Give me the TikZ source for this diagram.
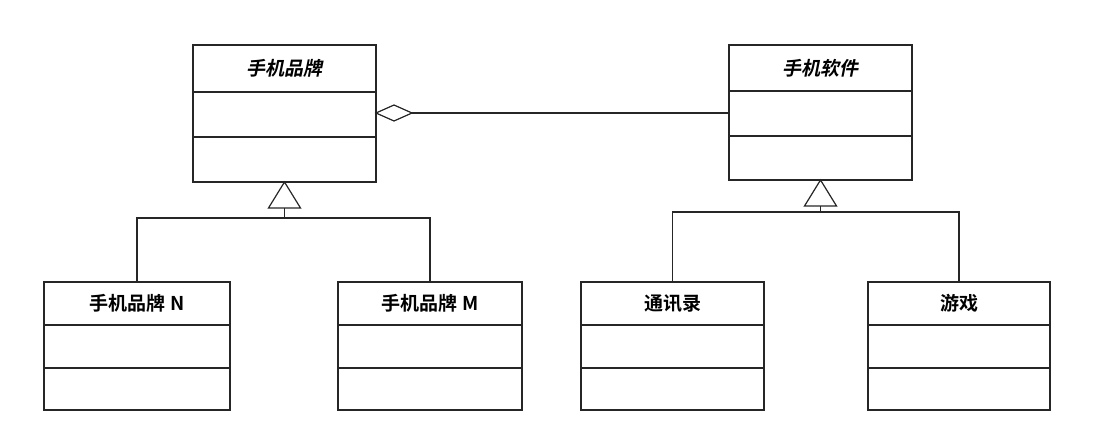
\documentclass[tikz,border=0pt]{standalone}
\usetikzlibrary{calc}
\usepackage{fontspec}
\newfontfamily\cjk{Noto Sans CJK SC}[BoldFont={Noto Sans CJK SC Bold}]
\newfontfamily\cjkit{Noto Sans CJK SC Bold}[FakeSlant=0.2]
\begin{document}
\begin{tikzpicture}[x=1pt,y=-1pt,line width=1.2pt,
  cls/.style={draw,black!85},
  lbl/.style={font=\cjk\bfseries\fontsize{19}{22}\selectfont},
  ilbl/.style={font=\cjkit\fontsize{19}{22}\selectfont}]
\useasboundingbox (0,0) rectangle (1100,441);
\newcommand\umlbox[7]{% name x1 y1 x2 y2 r1 r2
  \draw[cls] (#2,#3) rectangle (#4,#5);
  \draw[cls] (#2,#6) -- (#4,#6);
  \draw[cls] (#2,#7) -- (#4,#7);
  \coordinate (#1) at ({(#2+#4)/2},{(#3+#6)/2});
  \coordinate (#1-top) at ({(#2+#4)/2},#3);
  \coordinate (#1-bot) at ({(#2+#4)/2},#5);
  \coordinate (#1-right) at (#4,113);
  \coordinate (#1-left) at (#2,113);}
\umlbox{brand}{193}{45}{376}{182}{92}{137}
\umlbox{soft}{729}{45}{912}{180}{91}{136}
\umlbox{n}{44}{282}{230}{410}{325}{368}
\umlbox{m}{338}{282}{522}{410}{325}{368}
\umlbox{t}{581}{282}{764}{410}{325}{368}
\umlbox{g}{868}{282}{1050}{410}{325}{368}
\node[ilbl] (lbrand) at (brand) {手机品牌};
\node[ilbl] (lsoft) at (soft) {手机软件};
\node[lbl] (ln) at (n) {手机品牌 N};
\node[lbl] (lm) at (m) {手机品牌 M};
\node[lbl] (lt) at (t) {通讯录};
\node[lbl] (lg) at (g) {游戏};
% aggregation
\coordinate (dtip) at (412,113);
\draw[cls,fill=white] (brand-right) -- ++(18,-8) -- (dtip) -- ++(-18,8) -- cycle;
\draw[cls] (dtip) -- (soft-left);
% inheritance left
\draw[cls] (brand-bot) -- ++(-16,26) -- ++(32,0) -- cycle;
\draw[cls] ($(brand-bot)+(0,26)$) -- ++(0,10);
\draw[cls] (n-top) |- (m-top |- 0,218) -- (m-top);
% inheritance right
\draw[cls] (soft-bot) -- ++(-16,26) -- ++(32,0) -- cycle;
\draw[cls] ($(soft-bot)+(0,26)$) -- ++(0,6);
\draw[cls] (t-top) |- (g-top |- 0,212) -- (g-top);
\end{tikzpicture}
\end{document}
